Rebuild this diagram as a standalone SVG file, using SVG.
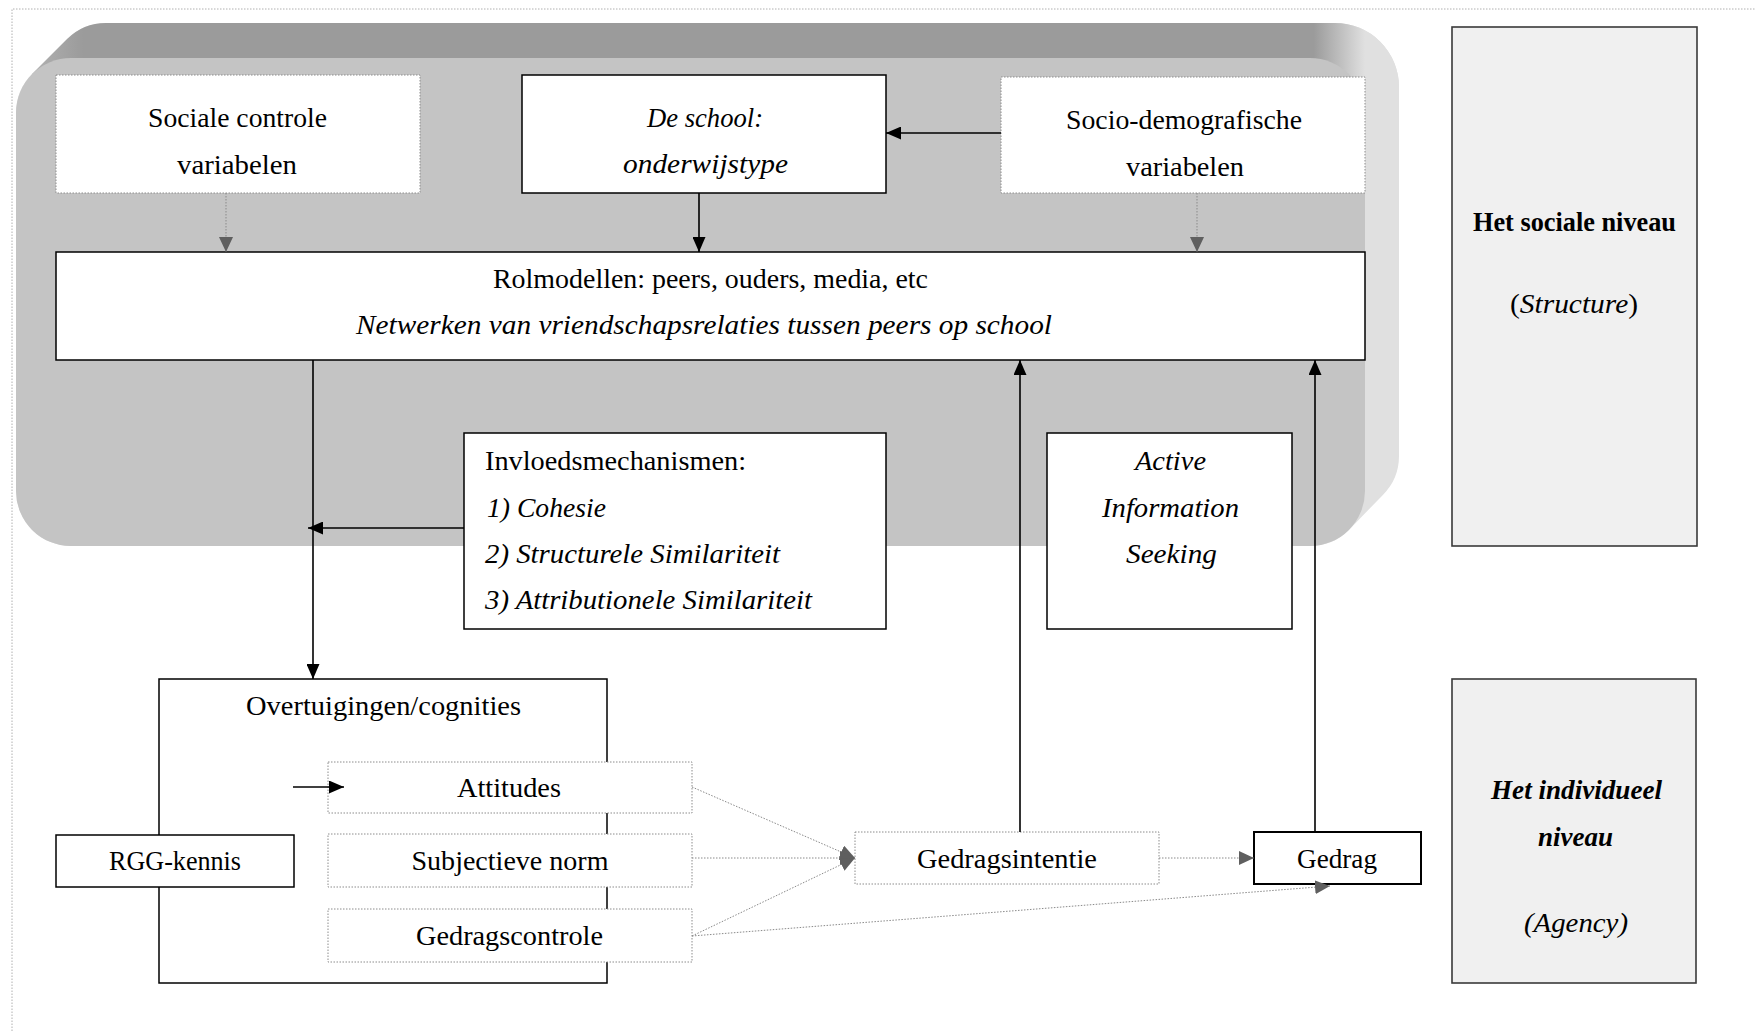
<svg xmlns="http://www.w3.org/2000/svg" width="1764" height="1031" viewBox="0 0 1764 1031">
<defs>
<style>
.box{fill:#fff;stroke:#000;stroke-width:1.5}
.dbox{fill:#fff;stroke:#8c8c8c;stroke-width:1;stroke-dasharray:1.5 1.5}
.lvl{fill:#f0f0f0;stroke:#3a3a3a;stroke-width:1.6}
.t{font-family:"Liberation Serif","Times New Roman",serif;font-size:27px;fill:#000;text-anchor:middle}
.i{font-style:italic}
.b{font-weight:bold}
.l{text-anchor:start}
.c{fill:none;stroke:#000;stroke-width:1.6}
.cd{fill:none;stroke:#8a8a8a;stroke-width:1;stroke-dasharray:1.5 1.5}
.page{fill:none;stroke:#b0b0b0;stroke-width:1;stroke-dasharray:1.5 1.5}
</style>
<linearGradient id="tg" gradientUnits="userSpaceOnUse" x1="16" y1="0" x2="1365" y2="0">
<stop offset="0" stop-color="#b8b8b8"/>
<stop offset="0.05" stop-color="#9b9b9b"/>
<stop offset="0.962" stop-color="#9b9b9b"/>
<stop offset="1" stop-color="#e0e0e0"/>
</linearGradient>
<marker id="ah" markerWidth="15" markerHeight="13" refX="15" refY="6.5" orient="auto" markerUnits="userSpaceOnUse"><path d="M0,0 L15,6.5 L0,13 z" fill="#000"/></marker>
<marker id="ahg" markerWidth="15" markerHeight="14" refX="15" refY="7" orient="auto" markerUnits="userSpaceOnUse"><path d="M0,0 L15,7 L0,14 z" fill="#5f5f5f"/></marker>
</defs>
<rect width="1764" height="1031" fill="#fff"/>
<path class="page" d="M12,1031 L12,9 L1755,9"/>

<g id="panel">
<path fill="#e0e0e0" d="M16,113 A55,55 0 0 1 32.1,74.1 L67.1,39.1 A55,55 0 0 1 106,23 L1335,23 A64,64 0 0 1 1399,87 L1399,456 A55,55 0 0 1 1382.9,494.9 L1348.9,529.9 A55,55 0 0 1 1310,546 L71,546 A55,55 0 0 1 16,491 Z"/>
<path fill="url(#tg)" d="M32.1,74.1 L67.1,39.1 A55,55 0 0 1 106,23 L1335,23 A64,64 0 0 1 1399,87 L1399,130 L1365,130 L1365,200 L32.1,200 Z"/>
<rect x="16" y="58" width="1349" height="488" rx="55" fill="#c4c4c4"/>
</g>

<g id="sociale-controle">
<rect class="dbox" x="56" y="75" width="364" height="118"/>
<text class="t" x="237.5" y="127" textLength="179" lengthAdjust="spacingAndGlyphs">Sociale controle</text>
<text class="t" x="237" y="174" textLength="120" lengthAdjust="spacingAndGlyphs">variabelen</text>
</g>
<g id="de-school">
<rect class="box" x="522" y="75" width="364" height="118"/>
<text class="t i" x="705" y="127" textLength="116" lengthAdjust="spacingAndGlyphs">De school:</text>
<text class="t i" x="705.5" y="173" textLength="165" lengthAdjust="spacingAndGlyphs">onderwijstype</text>
</g>
<g id="socio-demografisch">
<rect class="dbox" x="1001" y="77" width="364" height="116"/>
<text class="t" x="1184" y="129" textLength="236" lengthAdjust="spacingAndGlyphs">Socio-demografische</text>
<text class="t" x="1185" y="176" textLength="118" lengthAdjust="spacingAndGlyphs">variabelen</text>
</g>
<g id="rolmodellen">
<rect class="box" x="56" y="252" width="1309" height="108"/>
<text class="t" x="710.5" y="288" textLength="435" lengthAdjust="spacingAndGlyphs">Rolmodellen: peers, ouders, media, etc</text>
<text class="t i" x="704" y="334" textLength="696" lengthAdjust="spacingAndGlyphs">Netwerken van vriendschapsrelaties tussen peers op school</text>
</g>
<g id="het-sociale-niveau">
<rect class="lvl" x="1452" y="27" width="245" height="519"/>
<text class="t b" x="1574.5" y="231" textLength="203" lengthAdjust="spacingAndGlyphs">Het sociale niveau</text>
<text class="t" x="1574" y="313" textLength="128" lengthAdjust="spacingAndGlyphs">(<tspan class="i">Structure</tspan>)</text>
</g>
<g id="invloedsmechanismen">
<rect class="box" x="464" y="433" width="422" height="196"/>
<text class="t l" x="485" y="470" textLength="261" lengthAdjust="spacingAndGlyphs">Invloedsmechanismen:</text>
<text class="t l i" x="487" y="517" textLength="119" lengthAdjust="spacingAndGlyphs">1) Cohesie</text>
<text class="t l i" x="485" y="563" textLength="295" lengthAdjust="spacingAndGlyphs">2) Structurele Similariteit</text>
<text class="t l i" x="485" y="609" textLength="327" lengthAdjust="spacingAndGlyphs">3) Attributionele Similariteit</text>
</g>
<g id="active-information-seeking">
<rect class="box" x="1047" y="433" width="245" height="196"/>
<text class="t i" x="1170.5" y="470" textLength="71" lengthAdjust="spacingAndGlyphs">Active</text>
<text class="t i" x="1170.5" y="517" textLength="137" lengthAdjust="spacingAndGlyphs">Information</text>
<text class="t i" x="1171.5" y="563" textLength="91" lengthAdjust="spacingAndGlyphs">Seeking</text>
</g>
<g id="overtuigingen">
<rect class="box" x="159" y="679" width="448" height="304"/>
<text class="t" x="383.5" y="715" textLength="275" lengthAdjust="spacingAndGlyphs">Overtuigingen/cognities</text>
</g>
<g id="attitudes">
<rect class="dbox" x="328" y="762" width="364" height="51"/>
<text class="t" x="509" y="797" textLength="104" lengthAdjust="spacingAndGlyphs">Attitudes</text>
</g>
<g id="subjectieve-norm">
<rect class="dbox" x="328" y="834" width="364" height="53"/>
<text class="t" x="510" y="870" textLength="197" lengthAdjust="spacingAndGlyphs">Subjectieve norm</text>
</g>
<g id="gedragscontrole">
<rect class="dbox" x="328" y="909" width="364" height="53"/>
<text class="t" x="509.5" y="945" textLength="187" lengthAdjust="spacingAndGlyphs">Gedragscontrole</text>
</g>
<g id="rgg-kennis">
<rect class="box" x="56" y="835" width="238" height="52"/>
<text class="t" x="175" y="870" textLength="132" lengthAdjust="spacingAndGlyphs">RGG-kennis</text>
</g>
<g id="gedragsintentie">
<rect class="dbox" x="855" y="832" width="304" height="52"/>
<text class="t" x="1007" y="868" textLength="180" lengthAdjust="spacingAndGlyphs">Gedragsintentie</text>
</g>
<g id="gedrag">
<rect class="box" x="1254" y="832" width="167" height="52" style="stroke-width:2"/>
<text class="t" x="1337" y="868" textLength="80" lengthAdjust="spacingAndGlyphs">Gedrag</text>
</g>
<g id="het-individueel-niveau">
<rect class="lvl" x="1452" y="679" width="244" height="304"/>
<text class="t b i" x="1576.5" y="799" textLength="171" lengthAdjust="spacingAndGlyphs">Het individueel</text>
<text class="t b i" x="1575.5" y="846" textLength="75" lengthAdjust="spacingAndGlyphs">niveau</text>
<text class="t i" x="1576" y="932" textLength="104" lengthAdjust="spacingAndGlyphs">(Agency)</text>
</g>

<g id="connectors">
<line class="cd" x1="226" y1="193" x2="226" y2="252" marker-end="url(#ahg)"/>
<line class="c" x1="699" y1="193" x2="699" y2="252" marker-end="url(#ah)"/>
<line class="c" x1="1001" y1="133" x2="886" y2="133" marker-end="url(#ah)"/>
<line class="cd" x1="1197" y1="193" x2="1197" y2="252" marker-end="url(#ahg)"/>
<line class="c" x1="313" y1="360" x2="313" y2="679" marker-end="url(#ah)"/>
<line class="c" x1="464" y1="528" x2="308" y2="528" marker-end="url(#ah)"/>
<line class="c" x1="1020" y1="832" x2="1020" y2="360" marker-end="url(#ah)"/>
<line class="c" x1="1315" y1="832" x2="1315" y2="360" marker-end="url(#ah)"/>
<line class="c" x1="293" y1="787" x2="344" y2="787" marker-end="url(#ah)"/>
<line class="cd" x1="692" y1="787" x2="855" y2="858" marker-end="url(#ahg)"/>
<line class="cd" x1="692" y1="858" x2="855" y2="858" marker-end="url(#ahg)"/>
<line class="cd" x1="692" y1="936" x2="855" y2="858" marker-end="url(#ahg)"/>
<line class="cd" x1="1159" y1="858" x2="1254" y2="858" marker-end="url(#ahg)"/>
<line class="cd" x1="692" y1="936" x2="1330" y2="886" marker-end="url(#ahg)"/>
</g>
</svg>
